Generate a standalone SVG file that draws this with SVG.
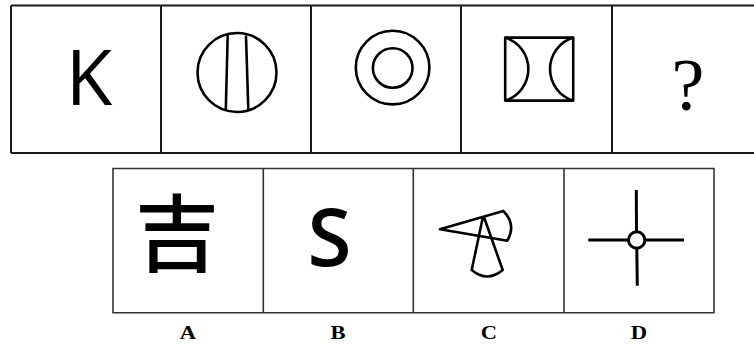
<svg xmlns="http://www.w3.org/2000/svg" width="754" height="345" viewBox="0 0 754 345">
<style>
.frame{fill:none;stroke:#1a1a1a;stroke-width:2}
.frame2{fill:none;stroke:#333;stroke-width:1.6}
.fig{fill:none;stroke:#000;stroke-width:2.6;stroke-linecap:round;stroke-linejoin:round}
.lbl{font-family:"Liberation Serif",serif;font-weight:bold;font-size:18.5px;text-anchor:middle;fill:#000}
</style>
<rect width="754" height="345" fill="#fff"/>
<g id="top-row">
<path class="frame" d="M11,5.5 H760 M11,153 H760 M11,5.5 V153 M161,5.5 V153 M311,5.5 V153 M461,5.5 V153 M612,5.5 V153"/>
</g>
<g id="q1"><text x="89" y="105" font-family="'Open Sans',sans-serif" font-size="76" text-anchor="middle" fill="#000">K</text></g>
<g id="q2" class="fig">
<circle cx="237" cy="72.5" r="39.5"/>
<line x1="227.7" y1="35.5" x2="225.8" y2="109.5"/>
<line x1="246" y1="36.5" x2="248.3" y2="109"/>
</g>
<g id="q3" class="fig">
<circle cx="392.6" cy="67.6" r="36.8"/>
<circle cx="392.7" cy="68" r="19.8"/>
</g>
<g id="q4" class="fig" style="stroke-linecap:butt">
<rect x="505.2" y="37.6" width="68" height="63"/>
<path d="M505.2,37.6 A33,33 0 0 1 505.2,100.6 M573.2,37.6 A33,33 0 0 0 573.2,100.6"/>
</g>
<g id="q5"><text x="688" y="110" font-family="'Liberation Serif',serif" font-size="74" text-anchor="middle" fill="#000">?</text></g>
<g id="bottom-row">
<path class="frame2" d="M113,168.5 H714 V312.7 H113 Z M263.3,168.5 V312.7 M413.3,168.5 V312.7 M564,168.5 V312.7"/>
</g>
<g id="optA"><text x="177" y="265" font-family="'Noto Sans CJK SC',sans-serif" font-weight="500" font-size="84" text-anchor="middle" fill="#000">吉</text></g>
<g id="optB"><text x="329.5" y="266" font-family="'Open Sans',sans-serif" font-weight="600" font-size="80" text-anchor="middle" fill="#000">S</text></g>
<g id="optC" class="fig">
<path d="M503.3,211 L440,229.3 L507.3,240.7 Q516.7,224.5 503.3,211"/>
<path d="M482.7,218 L471.7,270 Q487,283 502.7,270 L484.3,218"/>
</g>
<g id="optD" class="fig" style="stroke-width:3;stroke-linecap:butt">
<line x1="636.3" y1="190" x2="636.5" y2="231.5"/>
<line x1="636.8" y1="248.5" x2="637.3" y2="285.7"/>
<line x1="588.3" y1="240" x2="628.3" y2="240"/>
<line x1="645.3" y1="240" x2="684" y2="240"/>
<circle cx="636.7" cy="240" r="8.2"/>
</g>
<g id="labels">
<text class="lbl" transform="translate(188,339) scale(1.22,1)">A</text>
<text class="lbl" transform="translate(338,339) scale(1.22,1)">B</text>
<text class="lbl" transform="translate(489,339) scale(1.22,1)">C</text>
<text class="lbl" transform="translate(639,339) scale(1.22,1)">D</text>
</g>
</svg>
